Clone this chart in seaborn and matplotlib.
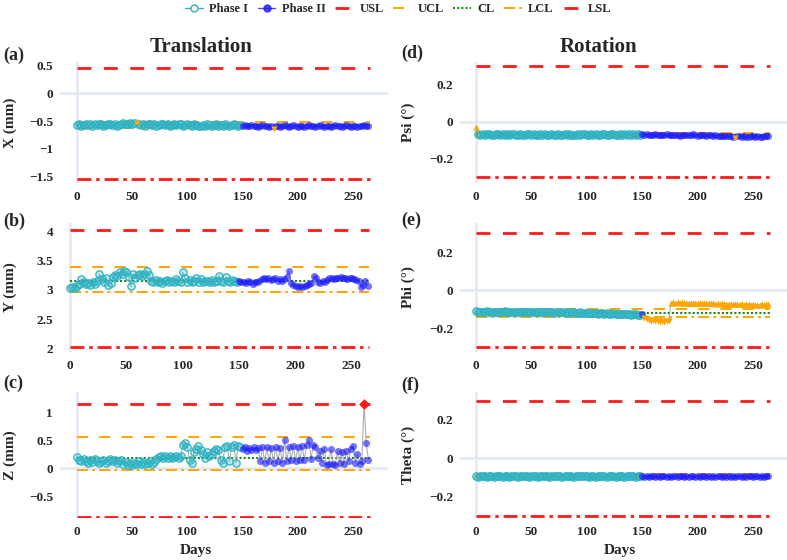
import numpy as np
import pandas as pd
import matplotlib
matplotlib.use("Agg")
import matplotlib.pyplot as plt
import seaborn as sns
from matplotlib.lines import Line2D

sns.set_theme(style="white")
plt.rcParams["font.family"] = ["Liberation Serif", "DejaVu Serif"]
plt.rcParams["font.weight"] = "bold"
plt.rcParams["axes.labelweight"] = "bold"
plt.rcParams["lines.scale_dashes"] = False
plt.rcParams["axes.unicode_minus"] = True

# ---------------- data ----------------
DAYS_I = list(range(0, 150, 2))
DAYS_II = list(range(150, 266, 2))

X_I = [-0.57, -0.56, -0.58, -0.57, -0.55, -0.57, -0.56, -0.58, -0.56, -0.57,
       -0.55, -0.56, -0.58, -0.57, -0.56, -0.55, -0.57, -0.56, -0.58, -0.57,
       -0.55, -0.54, -0.56, -0.55, -0.53, -0.55, -0.54, -0.50, -0.55, -0.57,
       -0.56, -0.58, -0.56, -0.55, -0.57, -0.56, -0.58, -0.57, -0.56, -0.55,
       -0.57, -0.56, -0.58, -0.57, -0.56, -0.57, -0.55, -0.56, -0.58, -0.57,
       -0.56, -0.57, -0.58, -0.56, -0.57, -0.58, -0.59, -0.57, -0.58, -0.56,
       -0.57, -0.58, -0.57, -0.56, -0.58, -0.57, -0.58, -0.56, -0.57, -0.58,
       -0.57, -0.56, -0.57, -0.58, -0.57]
X_II = [-0.58, -0.57, -0.59, -0.58, -0.57, -0.59, -0.58, -0.60, -0.58, -0.57,
        -0.59, -0.58, -0.60, -0.58, -0.64, -0.59, -0.58, -0.60, -0.59, -0.57,
        -0.58, -0.60, -0.59, -0.57, -0.58, -0.60, -0.59, -0.58, -0.60, -0.58,
        -0.57, -0.59, -0.58, -0.60, -0.59, -0.57, -0.58, -0.60, -0.59, -0.58,
        -0.60, -0.58, -0.57, -0.59, -0.58, -0.60, -0.59, -0.57, -0.58, -0.60,
        -0.59, -0.58, -0.60, -0.58, -0.59, -0.57, -0.58, -0.59]
X_LIM = [0.46, -0.52, -0.57, -0.62, -1.54]   # USL, UCL, CL, LCL, LSL

Y_I = [3.03, 3.05, 3.04, 3.06, 3.10, 3.18, 3.14, 3.10, 3.12, 3.09,
       3.13, 3.11, 3.16, 3.27, 3.18, 3.14, 3.20, 3.08, 3.12, 3.22,
       3.26, 3.24, 3.30, 3.28, 3.33, 3.31, 3.22, 3.06, 3.27, 3.20,
       3.25, 3.28, 3.24, 3.27, 3.33, 3.26, 3.15, 3.13, 3.17, 3.14,
       3.16, 3.12, 3.15, 3.17, 3.13, 3.16, 3.14, 3.18, 3.15, 3.13,
       3.30, 3.20, 3.14, 3.17, 3.13, 3.16, 3.21, 3.14, 3.18, 3.13,
       3.16, 3.15, 3.13, 3.17, 3.14, 3.16, 3.24, 3.15, 3.13, 3.22,
       3.16, 3.14, 3.17, 3.15, 3.14]
Y_II = [3.15, 3.13, 3.14, 3.12, 3.15, 3.13, 3.11, 3.14, 3.13, 3.16,
        3.19, 3.21, 3.18, 3.20, 3.17, 3.19, 3.21, 3.16, 3.18, 3.15,
        3.19, 3.22, 3.33, 3.12, 3.08, 3.06, 3.05, 3.07, 3.05, 3.06,
        3.08, 3.10, 3.12, 3.24, 3.20, 3.14, 3.12, 3.15, 3.13, 3.17,
        3.20, 3.21, 3.19, 3.21, 3.20, 3.22, 3.20, 3.21, 3.19, 3.20,
        3.21, 3.18, 3.17, 3.16, 3.05, 3.08, 3.15, 3.07]
Y_LIM = [4.03, 3.39, 3.15, 2.97, 2.03]

Z_I = [0.20, 0.15, 0.13, 0.17, 0.12, 0.10, 0.14, 0.11, 0.16, 0.13,
       0.09, 0.12, 0.15, 0.10, 0.13, 0.16, 0.12, 0.14, 0.10, 0.13,
       0.15, 0.08, 0.11, 0.06, 0.09, 0.05, 0.10, 0.07, 0.12, 0.08,
       0.11, 0.07, 0.10, 0.13, 0.08, 0.11, 0.16, 0.20, 0.22, 0.18,
       0.21, 0.19, 0.22, 0.18, 0.20, 0.22, 0.19, 0.21, 0.42, 0.45,
       0.38, 0.15, 0.10, 0.28, 0.35, 0.40, 0.32, 0.25, 0.18, 0.28,
       0.22, 0.26, 0.30, 0.35, 0.32, 0.15, 0.10, 0.38, 0.40, 0.12,
       0.38, 0.42, 0.10, 0.40, 0.38]
Z_II = [0.35, 0.38, 0.30, 0.36, 0.32, 0.38, 0.33, 0.36, 0.12, 0.38,
        0.10, 0.37, 0.12, 0.36, 0.10, 0.38, 0.13, 0.36, 0.10, 0.50,
        0.12, 0.38, 0.14, 0.40, 0.12, 0.38, 0.15, 0.40, 0.14, 0.42,
        0.50, 0.16, 0.42, 0.38, 0.18, 0.30, 0.10, 0.35, 0.06, 0.07,
        0.34, 0.08, 0.06, 0.30, 0.10, 0.28, 0.08, 0.30, 0.12, 0.35,
        0.40, 0.10, 0.25, 0.08, 0.12, 1.15, 0.45, 0.15]
Z_LIM = [1.15, 0.55, 0.18, -0.03, -0.87]

PSI_I = [-0.027, -0.068, -0.071, -0.069, -0.072, -0.070, -0.068, -0.071, -0.073, -0.069,
         -0.070, -0.072, -0.068, -0.071, -0.069, -0.073, -0.070, -0.068, -0.071, -0.072,
         -0.069, -0.071, -0.073, -0.070, -0.068, -0.072, -0.070, -0.074, -0.071, -0.069,
         -0.072, -0.070, -0.073, -0.071, -0.069, -0.072, -0.074, -0.070, -0.071, -0.073,
         -0.069, -0.072, -0.070, -0.074, -0.071, -0.073, -0.069, -0.072, -0.070, -0.068,
         -0.071, -0.073, -0.070, -0.072, -0.069, -0.071, -0.073, -0.070, -0.068, -0.071,
         -0.072, -0.070, -0.069, -0.071, -0.073, -0.070, -0.072, -0.069, -0.071, -0.070,
         -0.072, -0.070, -0.071, -0.069, -0.072]
PSI_II = [-0.070, -0.072, -0.069, -0.073, -0.071, -0.074, -0.070, -0.072, -0.075, -0.071,
          -0.073, -0.070, -0.074, -0.072, -0.075, -0.071, -0.073, -0.076, -0.072, -0.074,
          -0.071, -0.075, -0.073, -0.070, -0.074, -0.076, -0.072, -0.075, -0.073, -0.077,
          -0.074, -0.072, -0.077, -0.075, -0.079, -0.076, -0.078, -0.080, -0.076, -0.079,
          -0.077, -0.081, -0.090, -0.078, -0.080, -0.082, -0.079, -0.083, -0.081, -0.078,
          -0.080, -0.082, -0.079, -0.083, -0.081, -0.078, -0.080, -0.079]
PSI_LIM = [0.30, -0.060, -0.072, -0.086, -0.30]

PHI_I = [-0.112, -0.115, -0.113, -0.116, -0.114, -0.112, -0.115, -0.117, -0.113, -0.114,
         -0.116, -0.113, -0.115, -0.112, -0.114, -0.117, -0.115, -0.113, -0.116, -0.114,
         -0.115, -0.117, -0.114, -0.116, -0.113, -0.115, -0.118, -0.116, -0.114, -0.117,
         -0.115, -0.118, -0.116, -0.114, -0.117, -0.119, -0.116, -0.118, -0.115, -0.117,
         -0.119, -0.117, -0.120, -0.118, -0.116, -0.119, -0.121, -0.118, -0.120, -0.122,
         -0.119, -0.121, -0.123, -0.120, -0.122, -0.124, -0.121, -0.123, -0.125, -0.122,
         -0.124, -0.126, -0.123, -0.125, -0.127, -0.124, -0.126, -0.128, -0.125, -0.127,
         -0.129, -0.126, -0.128, -0.130, -0.131]
PHI_II = [-0.128, -0.145, -0.152, -0.158, -0.162, -0.160, -0.165, -0.163, -0.166, -0.164,
          -0.166, -0.164, -0.165, -0.066, -0.064, -0.066, -0.065, -0.067, -0.065, -0.066,
          -0.067, -0.066, -0.068, -0.067, -0.069, -0.068, -0.067, -0.069, -0.068, -0.070,
          -0.069, -0.068, -0.070, -0.071, -0.069, -0.072, -0.070, -0.071, -0.073, -0.071,
          -0.072, -0.074, -0.072, -0.073, -0.075, -0.074, -0.076, -0.073, -0.075, -0.077,
          -0.075, -0.076, -0.078, -0.076, -0.074, -0.077, -0.075, -0.073]
PHI_LIM = [0.30, -0.098, -0.120, -0.140, -0.30]

THETA_I = [-0.093, -0.095, -0.092, -0.094, -0.091, -0.096, -0.093, -0.092, -0.095, -0.093,
           -0.094, -0.092, -0.096, -0.093, -0.091, -0.095, -0.094, -0.092, -0.093, -0.096,
           -0.092, -0.094, -0.093, -0.091, -0.095, -0.093, -0.092, -0.094, -0.096, -0.093,
           -0.091, -0.094, -0.092, -0.095, -0.093, -0.091, -0.094, -0.092, -0.093, -0.095,
           -0.092, -0.094, -0.091, -0.093, -0.095, -0.092, -0.094, -0.093, -0.091, -0.094,
           -0.093, -0.095, -0.092, -0.094, -0.096, -0.093, -0.091, -0.094, -0.092, -0.095,
           -0.093, -0.094, -0.092, -0.095, -0.093, -0.091, -0.094, -0.096, -0.093, -0.092,
           -0.094, -0.093, -0.095, -0.092, -0.093]
THETA_II = [-0.094, -0.096, -0.093, -0.095, -0.092, -0.094, -0.096, -0.093, -0.095, -0.094,
            -0.092, -0.095, -0.093, -0.096, -0.094, -0.092, -0.095, -0.093, -0.094, -0.096,
            -0.093, -0.095, -0.092, -0.094, -0.096, -0.093, -0.095, -0.094, -0.092, -0.095,
            -0.094, -0.096, -0.093, -0.095, -0.092, -0.094, -0.097, -0.093, -0.095, -0.094,
            -0.096, -0.093, -0.095, -0.092, -0.094, -0.096, -0.093, -0.095, -0.094, -0.092,
            -0.095, -0.093, -0.094, -0.096, -0.093, -0.095, -0.094, -0.093]
THETA_LIM = [0.30, -0.082, -0.093, -0.104, -0.30]

X_TICKS = [0, 50, 100, 150, 200, 250]
LIMIT_NAMES = ["USL", "UCL", "CL", "LCL", "LSL"]

# ---------------- styles ----------------
C_I = "#2fb3c4"
C_II = "#1a1aff"
C_RED = "#ff1a1a"
C_ORANGE = "#ffa500"
C_GREEN = "#1a8a1a"
C_ZERO = "#e3e9f4"
LIMIT_STYLE = {
    "USL": dict(color=C_RED, lw=2.0, dashes=(10, 9)),
    "UCL": dict(color=C_ORANGE, lw=1.4, dashes=(8, 8)),
    "CL": dict(color=C_GREEN, lw=1.5, dashes=(1.5, 1.5)),
    "LCL": dict(color=C_ORANGE, lw=1.4, dashes=(8, 3, 2, 3)),
    "LSL": dict(color=C_RED, lw=2.0, dashes=(10, 3.5, 2.5, 3.5)),
}

W, H = 787, 560
fig = plt.figure(figsize=(W / 100, H / 100), dpi=100)


def fr(x0, top, w, bottom):
    return [x0 / W, 1 - bottom / H, w / W, (bottom - top) / H]


panels = [
    dict(tag="(a)", ylabel="X (mm)", I=X_I, II=X_II, lim=X_LIM, ylim=(-1.62, 0.57),
         yticks=[0.5, 0, -0.5, -1, -1.5], xlim=(-15.4, 281.7),
         box=fr(60, 62, 328, 183), tagpos=(3, 55), ylx=-0.131, last=False),
    dict(tag="(b)", ylabel="Y (mm)", I=Y_I, II=Y_II, lim=Y_LIM, ylim=(1.94, 4.145),
         yticks=[4, 3.5, 3, 2.5, 2], xlim=(-8.9, 282),
         box=fr(60, 223, 328, 352), tagpos=(3, 221), ylx=-0.131, last=False),
    dict(tag="(c)", ylabel="Z (mm)", I=Z_I, II=Z_II, lim=Z_LIM, ylim=(-0.89, 1.36),
         yticks=[1, 0.5, 0, -0.5], xlim=(-15.4, 281.7),
         box=fr(60, 392, 328, 518), tagpos=(3, 383), ylx=-0.131, last=True, dx=0.415),
    dict(tag="(d)", ylabel="Psi (°)", I=PSI_I, II=PSI_II, lim=PSI_LIM, ylim=(-0.333, 0.323),
         yticks=[0.2, 0, -0.2], xlim=(-14.4, 280.7),
         box=fr(460, 62, 327, 183), tagpos=(401, 53), ylx=-0.138, last=False),
    dict(tag="(e)", ylabel="Phi (°)", I=PHI_I, II=PHI_II, lim=PHI_LIM, ylim=(-0.326, 0.353),
         yticks=[0.2, 0, -0.2], xlim=(-14.4, 280.7),
         box=fr(460, 223, 327, 352), tagpos=(401, 220), ylx=-0.138, last=False),
    dict(tag="(f)", ylabel="Theta (°)", I=THETA_I, II=THETA_II, lim=THETA_LIM, ylim=(-0.311, 0.345),
         yticks=[0.2, 0, -0.2], xlim=(-14.4, 280.7),
         box=fr(460, 392, 327, 518), tagpos=(401, 385), ylx=-0.138, last=True, dx=0.49),
]


def fmt(v):
    s = ("%g" % v)
    return s.replace("-", "\u2212")


for p in panels:
    ax = fig.add_axes(p["box"])
    usl, ucl, cl, lcl, lsl = p["lim"]
    df = pd.DataFrame({
        "day": DAYS_I + DAYS_II,
        "value": p["I"] + p["II"],
        "phase": ["Phase I"] * len(DAYS_I) + ["Phase II"] * len(DAYS_II),
    })
    df["state"] = "ok"
    df.loc[(df.value > ucl) | (df.value < lcl), "state"] = "ooc"
    df.loc[(df.value >= usl) | (df.value <= lsl), "state"] = "spec"

    ylo, yhi = p["ylim"]
    if ylo < 0 < yhi:
        ax.axhline(0, color=C_ZERO, lw=1.8, zorder=0)
    ax.axvline(0, color=C_ZERO, lw=1.8, zorder=0)

    for name, val in zip(LIMIT_NAMES, p["lim"]):
        st = LIMIT_STYLE[name]
        ax.plot([0, 265], [val, val], color=st["color"], lw=st["lw"],
                dashes=st["dashes"], zorder=2)

    sns.lineplot(data=df, x="day", y="value", ax=ax, color="#9a9a9a", lw=0.8,
                 alpha=0.8, zorder=3, estimator=None, sort=True, legend=False)

    ok1 = df[(df.phase == "Phase I") & (df.state == "ok")]
    ok2 = df[(df.phase == "Phase II") & (df.state == "ok")]
    sns.scatterplot(data=ok1, x="day", y="value", ax=ax, s=28,
                    facecolor=(0.18, 0.70, 0.77, 0.3), edgecolor=C_I,
                    linewidth=0.9, zorder=4, legend=False)
    sns.scatterplot(data=ok2, x="day", y="value", ax=ax, s=26,
                    color=C_II, alpha=0.6, linewidth=0, zorder=4, legend=False)
    up = df[(df.state == "ooc") & (df.value > ucl)]
    dn = df[(df.state == "ooc") & (df.value < lcl)]
    sp = df[df.state == "spec"]
    if len(up):
        sns.scatterplot(data=up, x="day", y="value", ax=ax, s=20, marker="^",
                        color=C_ORANGE, linewidth=0, zorder=5, legend=False)
    if len(dn):
        sns.scatterplot(data=dn, x="day", y="value", ax=ax, s=20, marker="v",
                        color=C_ORANGE, linewidth=0, zorder=5, legend=False)
    if len(sp):
        sns.scatterplot(data=sp, x="day", y="value", ax=ax, s=30, marker="D",
                        color=C_RED, linewidth=0, zorder=6, legend=False)

    ax.set_xlim(*p["xlim"])
    ax.set_ylim(ylo, yhi)
    ax.set_xticks(X_TICKS)
    ax.set_xticklabels([str(t) for t in X_TICKS])
    ax.set_yticks(p["yticks"])
    ax.set_yticklabels([fmt(v) for v in p["yticks"]])
    ax.tick_params(axis="x", length=0, labelsize=9.5, pad=6)
    ax.tick_params(axis="y", length=0, labelsize=9.5, pad=5)
    for lab in ax.get_xticklabels() + ax.get_yticklabels():
        lab.set_fontweight("bold")
    for sp_ in ax.spines.values():
        sp_.set_visible(False)
    ax.grid(False)
    ax.set_facecolor("white")

    ax.set_ylabel(p["ylabel"], fontsize=11, fontweight="bold")
    ax.yaxis.set_label_coords(p["ylx"], 0.5)
    if p["last"]:
        ax.set_xlabel("Days", fontsize=11, fontweight="bold")
        ax.xaxis.set_label_coords(p["dx"], -0.205)
    else:
        ax.set_xlabel("")

    fig.text(p["tagpos"][0] / W, 1 - p["tagpos"][1] / H, p["tag"], fontsize=13,
             fontweight="bold", ha="left", va="center")

fig.text(201 / W, 1 - 47 / H, "Translation", fontsize=15, fontweight="bold",
         ha="center", va="center")
fig.text(598 / W, 1 - 47 / H, "Rotation", fontsize=15, fontweight="bold",
         ha="center", va="center")

handles = [
    Line2D([], [], color=C_I, lw=1, marker="o", markersize=5,
           markerfacecolor="white", markeredgecolor=C_I),
    Line2D([], [], color=C_II, lw=1, marker="o", markersize=5,
           markerfacecolor=C_II, markeredgecolor=C_II, alpha=0.8),
]
for name in LIMIT_NAMES:
    st = LIMIT_STYLE[name]
    handles.append(Line2D([], [], color=st["color"], lw=st["lw"], dashes=st["dashes"]))
labels = ["Phase I", "Phase II"] + LIMIT_NAMES
leg = fig.legend(handles, labels, loc="center", bbox_to_anchor=(398 / W, 1 - 9 / H),
                 ncol=7, frameon=False, fontsize=9, handlelength=1.4,
                 columnspacing=0.8, handletextpad=0.5)
for t in leg.get_texts():
    t.set_fontweight("bold")

fig.savefig("out.png", dpi=100, facecolor="white")
